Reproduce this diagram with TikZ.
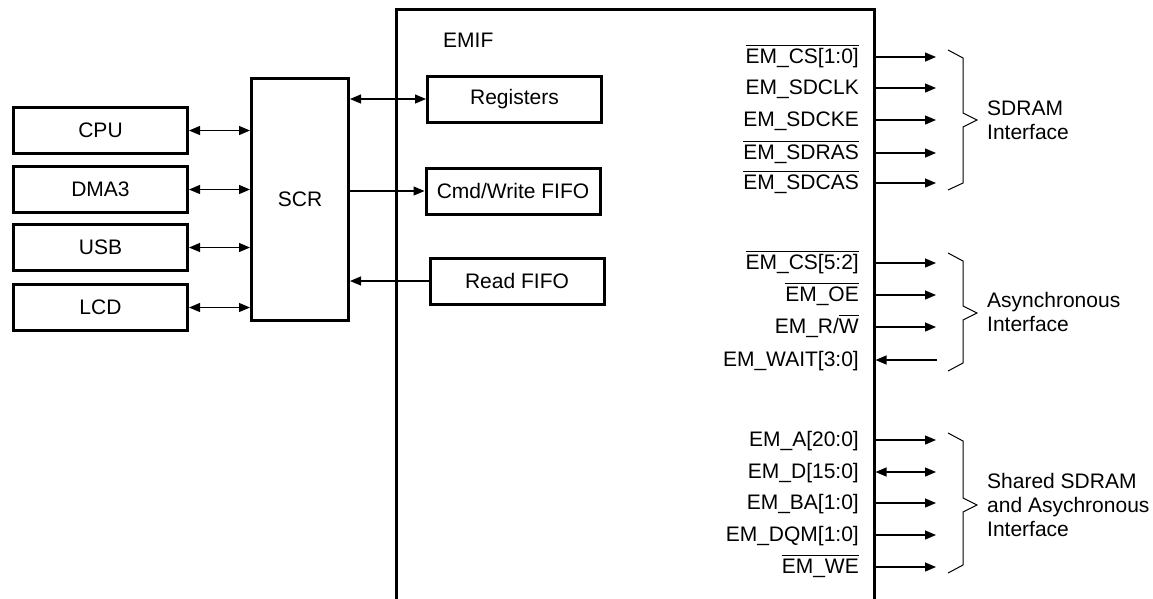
\documentclass[tikz,border=0pt]{standalone}
\usepackage{fontspec}
\setmainfont{Liberation Sans}
\usetikzlibrary{arrows.meta}
\newcommand{\ovl}[1]{\setbox0\hbox{#1}\rlap{\rule[17.5pt]{\wd0}{0.9pt}}\box0}

\begin{document}
\begin{tikzpicture}[x=1pt, y=-1pt,
    font=\fontsize{21}{24}\selectfont,
    blk/.style = {draw, line width=3pt, minimum width=174pt, minimum height=46pt, inner sep=0pt},
    pin/.style = {anchor=east, inner sep=0pt, text height=15pt, text depth=3pt},
    grp/.style = {anchor=west, align=left, inner sep=0pt},
    sig/.style = {line width=1.2pt, -{Triangle[length=11pt,width=9pt]}},
    bsig/.style = {line width=1.2pt, {Triangle[length=11pt,width=9pt]}-{Triangle[length=11pt,width=9pt]}},
    brace/.style = {line width=1pt}]
        \useasboundingbox (0,0) rectangle (1153,598);
        \clip (0,0) rectangle (1153,598);
        % masters
        \node[blk] at (100.5,130.5) (cpu) {CPU};
        \node[blk] at (100.5,189.5) (dma) {DMA3};
        \node[blk] at (100.5,247.5) (usb) {USB};
        \node[blk] at (100.5,307.5) (lcd) {LCD};
        \node[blk, minimum width=97pt, minimum height=242pt] at (300,199.5) (scr) {SCR};
        % EMIF block
        \node[draw, line width=3pt, minimum width=478pt, minimum height=631pt, inner sep=0pt] at (635,325) (emif) {};
        \node[anchor=west, inner sep=0pt] at (443,40) (emiflbl) {EMIF};
        \node[blk] at (514.5,99) (regs) {Registers};
        \node[blk] at (513,191) (cmd) {Cmd/Write FIFO};
        \node[blk] at (517,281) (rd) {Read FIFO};
        \draw[bsig] (cpu.east) -- (cpu.east -| scr.west);
        \draw[bsig] (dma.east) -- (dma.east -| scr.west);
        \draw[bsig] (usb.east) -- (usb.east -| scr.west);
        \draw[bsig] (lcd.east) -- (lcd.east -| scr.west);
        \draw[bsig] (scr.east |- regs) -- (regs.west);
        \draw[sig] (scr.east |- cmd) -- (cmd.west);
        \draw[sig] (rd.west) -- (rd.west -| scr.east);
        % SDRAM pins
        \node[pin] at (859,57) (cs10) {\ovl{EM\_CS[1:0]}};
        \node[pin] at (859,88) (sdclk) {EM\_SDCLK};
        \node[pin] at (859,120) (sdcke) {EM\_SDCKE};
        \node[pin] at (859,153) (sdras) {\ovl{EM\_SDRAS}};
        \node[pin] at (859,183) (sdcas) {\ovl{EM\_SDCAS}};
        \coordinate (cs10e) at (936,57);
        \coordinate (sdclke) at (936,88);
        \coordinate (sdckee) at (936,120);
        \coordinate (sdrase) at (936,153);
        \coordinate (sdcase) at (936,183);
        \draw[sig] (emif.east |- cs10) -- (cs10e);
        \draw[sig] (emif.east |- sdclk) -- (sdclke);
        \draw[sig] (emif.east |- sdcke) -- (sdckee);
        \draw[sig] (emif.east |- sdras) -- (sdrase);
        \draw[sig] (emif.east |- sdcas) -- (sdcase);
        \draw[brace] (948,50) -- (963,58) -- (963,113) -- (977,120) -- (963,127) -- (963,183) -- (948,190);
        \node[grp] at (987,120) (sdramtxt) {SDRAM\\Interface};
        % asynchronous pins
        \node[pin] at (859,263) (cs52) {\ovl{EM\_CS[5:2]}};
        \node[pin] at (859,295) (oe) {\ovl{EM\_OE}};
        \node[pin] at (859,327) (rw) {EM\_R/\ovl{W}};
        \node[pin] at (859,360) (wait) {EM\_WAIT[3:0]};
        \coordinate (cs52e) at (936,263);
        \coordinate (oee) at (936,295);
        \coordinate (rwe) at (936,327);
        \coordinate (waite) at (937,360);
        \draw[sig] (emif.east |- cs52) -- (cs52e);
        \draw[sig] (emif.east |- oe) -- (oee);
        \draw[sig] (emif.east |- rw) -- (rwe);
        \draw[sig] (waite) -- (emif.east |- wait);
        \draw[brace] (948,253) -- (963,261) -- (963,306) -- (977,313) -- (963,320) -- (963,363) -- (948,371);
        \node[grp] at (987,312) (asynctxt) {Asynchronous\\Interface};
        % shared pins
        \node[pin] at (859,440) (addr) {EM\_A[20:0]};
        \node[pin] at (859,472) (data) {EM\_D[15:0]};
        \node[pin] at (859,503) (ba) {EM\_BA[1:0]};
        \node[pin] at (859,535) (dqm) {EM\_DQM[1:0]};
        \node[pin] at (859,567) (we) {\ovl{EM\_WE}};
        \coordinate (addre) at (936,440);
        \coordinate (datae) at (936,472);
        \coordinate (bae) at (936,503);
        \coordinate (dqme) at (936,535);
        \coordinate (wee) at (936,567);
        \draw[sig] (emif.east |- addr) -- (addre);
        \draw[bsig] (emif.east |- data) -- (datae);
        \draw[sig] (emif.east |- ba) -- (bae);
        \draw[sig] (emif.east |- dqm) -- (dqme);
        \draw[sig] (emif.east |- we) -- (wee);
        \draw[brace] (948,433) -- (963,441) -- (963,498) -- (977,505) -- (963,512) -- (963,565) -- (948,573);
        \node[grp] at (987,505) (sharedtxt) {Shared SDRAM\\and Asychronous\\Interface};
\end{tikzpicture}
\end{document}
